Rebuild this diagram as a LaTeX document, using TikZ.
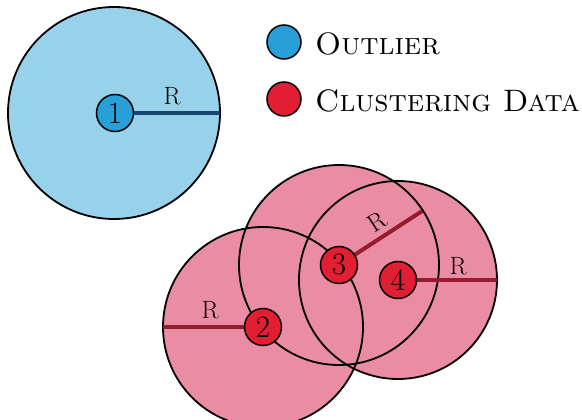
\documentclass[tikz,border=0pt]{standalone}
\usetikzlibrary{calc}
\definecolor{skyfill}{RGB}{152,210,234}
\definecolor{skydot}{RGB}{40,160,215}
\definecolor{skyline}{RGB}{22,70,110}
\definecolor{pinkfill}{RGB}{234,140,164}
\definecolor{reddot}{RGB}{226,30,50}
\definecolor{redline}{RGB}{150,28,45}
\tikzset{
  zone/.style={circle, minimum size=200pt, inner sep=0pt},
  dot/.style={circle, draw=black, line width=1.5pt, minimum size=37pt, inner sep=0pt, font=\fontsize{31}{31}\selectfont},
  rlabel/.style={font=\fontsize{25}{25}\selectfont, inner sep=1pt},
  legtext/.style={anchor=base west, font=\fontsize{31}{31}\selectfont\scshape, inner sep=0pt},
}
\begin{document}
\begin{tikzpicture}[x=1pt, y=-1pt]
\useasboundingbox (0,0) rectangle (582,420);

% outlier region
\draw[fill=skyfill, line width=1.8pt] (114,113) circle (106);
\node[dot, fill=skydot] (n1) at (115,113) {1};
\coordinate (e1) at (220,113);
\draw[skyline, line width=4pt] (n1.east) -- (e1);
\node[rlabel] at (172,96) {R};

% legend
\node[circle, draw=black, line width=1.5pt, fill=skydot, minimum size=34pt, inner sep=0pt] (lo) at (284,42) {};
\node[circle, draw=black, line width=1.5pt, fill=reddot, minimum size=34pt, inner sep=0pt] (lc) at (284,99) {};
\node[legtext] (to) at (315,55) {Outlier};
\node[legtext] (tc) at (315,112) {Clustering Data};

% cluster regions: fills first, then outlines
\fill[pinkfill] (263,327) circle (100);
\fill[pinkfill] (339,265) circle (100);
\fill[pinkfill] (398,280) circle (99);
\draw[line width=1.8pt] (263,327) circle (100);
\draw[line width=1.8pt] (339,265) circle (100);
\draw[line width=1.8pt] (398,280) circle (99);

% radii
\coordinate (e2) at (163,327);
\coordinate (e3) at ($(339,265)+(-33:99)$);
\coordinate (e4) at (497,280);
\node[dot, fill=reddot] (n2) at (263,327) {2};
\node[dot, fill=reddot] (n3) at (339,265) {3};
\node[dot, fill=reddot] (n4) at (398,280) {4};
\draw[redline, line width=4pt] (n2.west) -- (e2);
\draw[redline, line width=4pt] (n3.33) -- (e3);
\draw[redline, line width=4pt] (n4.east) -- (e4);
\node[rlabel] at (210,310) {R};
\node[rlabel, rotate=33] at (377,222) {R};
\node[rlabel] at (458,266) {R};
\end{tikzpicture}
\end{document}
